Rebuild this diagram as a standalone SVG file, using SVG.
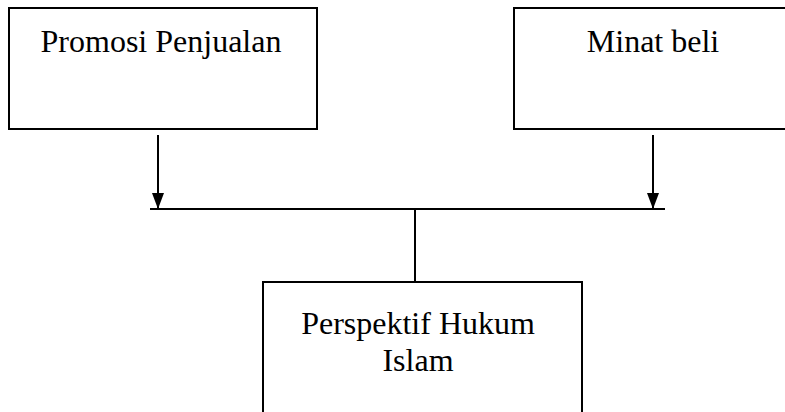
<svg xmlns="http://www.w3.org/2000/svg" width="785" height="412" viewBox="0 0 785 412">
<style>
.box{fill:#fff;stroke:#000;stroke-width:2}
.ln{stroke:#000;stroke-width:2;fill:none}
text{font-family:"Liberation Serif","Times New Roman",serif;font-size:32px;fill:#000;text-anchor:middle}
</style>
<defs>
<marker id="ah" viewBox="0 0 16 12" refX="16" refY="6" markerWidth="16" markerHeight="12" markerUnits="userSpaceOnUse" orient="auto">
<path d="M0,0 L16,6 L0,12 Z" fill="#000"/>
</marker>
</defs>
<g id="promosi">
<rect class="box" x="9" y="8" width="308" height="121"/>
<text x="161" y="52">Promosi Penjualan</text>
</g>
<g id="minat">
<rect class="box" x="514" y="8" width="280" height="121"/>
<text x="653" y="52">Minat beli</text>
</g>
<g id="perspektif">
<rect class="box" x="263" y="282" width="319" height="140"/>
<text x="418" y="334">Perspektif Hukum</text>
<text x="418" y="371">Islam</text>
</g>
<g id="connectors">
<line class="ln" x1="158" y1="135" x2="158" y2="209" marker-end="url(#ah)"/>
<line class="ln" x1="653" y1="135" x2="653" y2="209" marker-end="url(#ah)"/>
<line class="ln" x1="150" y1="209" x2="665" y2="209"/>
<line class="ln" x1="415" y1="209" x2="415" y2="282"/>
</g>
</svg>
